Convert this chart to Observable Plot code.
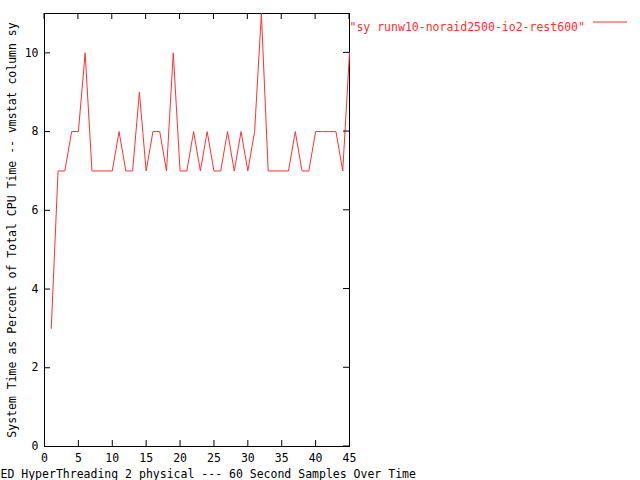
<!DOCTYPE html>
<html>
<head>
<meta charset="utf-8">
<script src="https://cdn.jsdelivr.net/npm/d3@7"></script>
<script src="https://cdn.jsdelivr.net/npm/@observablehq/plot@0.6"></script>
<style>
  html, body { margin: 0; padding: 0; background: #fff; }
  #chart { position: relative; width: 640px; height: 480px; }
</style>
</head>
<body>
<div id="chart"></div>
<script>
const samples = [1,2,3,4,5,6,7,8,9,10,11,12,13,14,15,16,17,18,19,20,21,22,23,24,25,26,27,28,29,30,31,32,33,34,35,36,37,38,39,40,41,42,43,44,45];
const sy = [3,7,7,8,8,10,7,7,7,7,8,7,7,9,7,8,8,7,10,7,7,8,7,8,7,7,8,7,8,7,8,11,7,7,7,7,8,7,7,8,8,8,8,7,10];
const xTicks = [0,5,10,15,20,25,30,35,40,45];
const yTicks = [0,2,4,6,8,10];
const seriesName = "\"sy runw10-noraid2500-io2-rest600\"";
const xLabel = "ED HyperThreading 2 physical --- 60 Second Samples Over Time";
const yLabel = "System Time as Percent of Total CPU Time -- vmstat column sy";
const lineColor = "#ff3030";

const data = samples.map((s, i) => ({x: s, y: sy[i]}));
const font = "DejaVu Sans Mono, monospace";

const chart = Plot.plot({
  width: 640,
  height: 480,
  marginLeft: 44,
  marginRight: 291,
  marginTop: 13,
  marginBottom: 34,
  style: {fontFamily: font, fontSize: "11.5px", color: "#000", background: "#fff", overflow: "visible"},
  x: {domain: [0, 45]},
  y: {domain: [0, 11]},
  marks: [
    Plot.frame({stroke: "#000", strokeWidth: 1}),
    Plot.axisX(xTicks, {anchor: "bottom", tickSize: -6, tickPadding: 13, label: null, tickFormat: d => String(d), stroke: "#000"}),
    Plot.axisY(yTicks, {anchor: "left", tickSize: -6, tickPadding: 12, label: null, tickFormat: d => String(d), stroke: "#000"}),
    Plot.line(data, {x: "x", y: "y", stroke: lineColor, strokeWidth: 1}),
    Plot.text([yLabel], {frameAnchor: "left", textAnchor: "middle", rotate: -90, dx: -32, fill: "#000", text: d => d}),
    Plot.text([xLabel], {frameAnchor: "bottom-left", textAnchor: "start", dx: -44, dy: 31, fill: "#000", text: d => d}),
    Plot.text([seriesName], {frameAnchor: "top-right", textAnchor: "start", dx: 0, dy: 9, fill: lineColor, text: d => d})
  ]
});
document.getElementById("chart").appendChild(chart);
// mirrored inward ticks on top and right, positioned with the chart's own scales
const sxScale = chart.scale("x"), syScale = chart.scale("y");
const g = d3.select(chart).append("g").attr("stroke", "#000");
const frameTop = syScale.apply(11), frameRight = sxScale.apply(45);
xTicks.forEach(t => g.append("line").attr("x1", sxScale.apply(t)).attr("x2", sxScale.apply(t)).attr("y1", frameTop).attr("y2", frameTop + 6));
yTicks.forEach(t => g.append("line").attr("x1", frameRight).attr("x2", frameRight - 6).attr("y1", syScale.apply(t)).attr("y2", syScale.apply(t)));
// legend line sample
d3.select(chart).append("line")
  .attr("x1", 593).attr("x2", 627).attr("y1", 22).attr("y2", 22)
  .attr("stroke", lineColor).attr("stroke-width", 1);
</script>
</body>
</html>
